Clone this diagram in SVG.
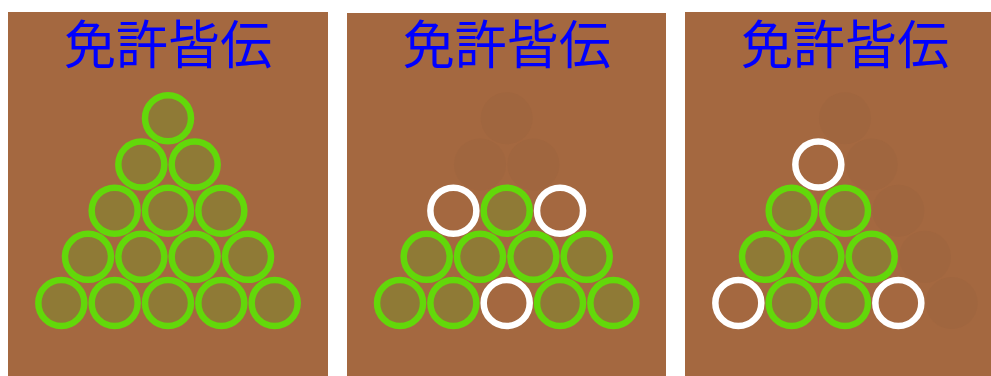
<svg xmlns="http://www.w3.org/2000/svg" width="991" height="376" viewBox="0 0 991 376">
<defs>
<style>
.bg{fill:#A46840}
.t{font-family:"Noto Sans CJK JP","Noto Sans CJK SC",sans-serif;font-size:52px;fill:#0000FF;text-anchor:middle}
.g{fill:#8F7A36;stroke:#62D80A;stroke-width:6.5}
.w{fill:none;stroke:#FFFFFF;stroke-width:6.5}
.f{fill:#A0663F;stroke:none}
</style>
</defs>
<rect x="0" y="0" width="991" height="376" fill="#FFFFFF"/>
<g id="panel1">
<rect class="bg" x="8" y="12" width="320" height="364"/>
<text class="t" x="168" y="64">免許皆伝</text>
<g transform="translate(168,118.3)">
<circle class="g" cx="0" cy="0" r="23"/>
<circle class="g" cx="-26.67" cy="46.19" r="23"/>
<circle class="g" cx="26.67" cy="46.19" r="23"/>
<circle class="g" cx="-53.33" cy="92.38" r="23"/>
<circle class="g" cx="0" cy="92.38" r="23"/>
<circle class="g" cx="53.33" cy="92.38" r="23"/>
<circle class="g" cx="-80" cy="138.57" r="23"/>
<circle class="g" cx="-26.67" cy="138.57" r="23"/>
<circle class="g" cx="26.67" cy="138.57" r="23"/>
<circle class="g" cx="80" cy="138.57" r="23"/>
<circle class="g" cx="-106.67" cy="184.76" r="23"/>
<circle class="g" cx="-53.33" cy="184.76" r="23"/>
<circle class="g" cx="0" cy="184.76" r="23"/>
<circle class="g" cx="53.33" cy="184.76" r="23"/>
<circle class="g" cx="106.67" cy="184.76" r="23"/>
</g>
</g>
<g id="panel2">
<rect class="bg" x="347" y="13" width="319" height="363"/>
<text class="t" x="506.7" y="64">免許皆伝</text>
<g transform="translate(506.7,118.3)">
<circle class="f" cx="0" cy="0" r="26"/>
<circle class="f" cx="-26.67" cy="46.19" r="26"/>
<circle class="f" cx="26.67" cy="46.19" r="26"/>
<circle class="w" cx="-53.33" cy="92.38" r="23"/>
<circle class="g" cx="0" cy="92.38" r="23"/>
<circle class="w" cx="53.33" cy="92.38" r="23"/>
<circle class="g" cx="-80" cy="138.57" r="23"/>
<circle class="g" cx="-26.67" cy="138.57" r="23"/>
<circle class="g" cx="26.67" cy="138.57" r="23"/>
<circle class="g" cx="80" cy="138.57" r="23"/>
<circle class="g" cx="-106.67" cy="184.76" r="23"/>
<circle class="g" cx="-53.33" cy="184.76" r="23"/>
<circle class="w" cx="0" cy="184.76" r="23"/>
<circle class="g" cx="53.33" cy="184.76" r="23"/>
<circle class="g" cx="106.67" cy="184.76" r="23"/>
</g>
</g>
<g id="panel3">
<rect class="bg" x="685" y="12" width="306" height="364"/>
<text class="t" x="845" y="64">免許皆伝</text>
<g transform="translate(845,118.3)">
<circle class="f" cx="0" cy="0" r="26"/>
<circle class="f" cx="26.67" cy="46.19" r="26"/>
<circle class="f" cx="53.33" cy="92.38" r="26"/>
<circle class="f" cx="80" cy="138.57" r="26"/>
<circle class="f" cx="106.67" cy="184.76" r="26"/>
<circle class="w" cx="-26.67" cy="46.19" r="23"/>
<circle class="g" cx="-53.33" cy="92.38" r="23"/>
<circle class="g" cx="0" cy="92.38" r="23"/>
<circle class="g" cx="-80" cy="138.57" r="23"/>
<circle class="g" cx="-26.67" cy="138.57" r="23"/>
<circle class="g" cx="26.67" cy="138.57" r="23"/>
<circle class="w" cx="-106.67" cy="184.76" r="23"/>
<circle class="g" cx="-53.33" cy="184.76" r="23"/>
<circle class="g" cx="0" cy="184.76" r="23"/>
<circle class="w" cx="53.33" cy="184.76" r="23"/>
</g>
</g>
</svg>
